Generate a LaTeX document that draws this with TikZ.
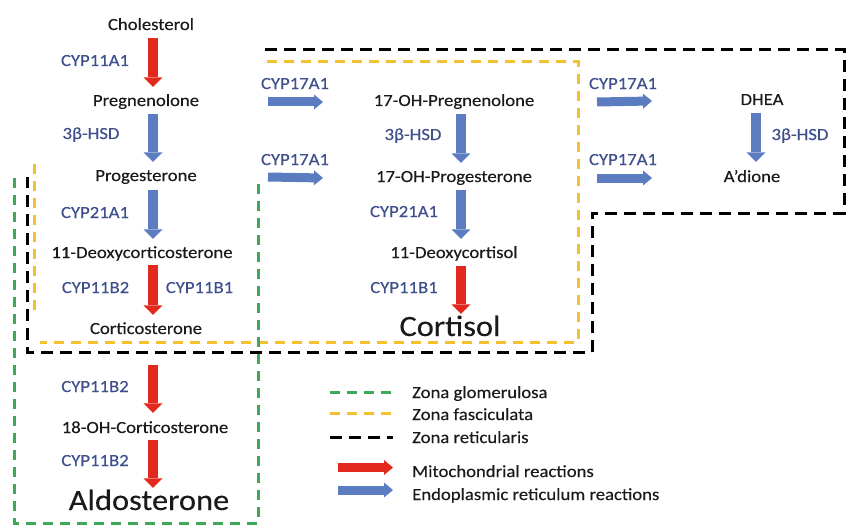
\documentclass[tikz,border=0pt]{standalone}
\usepackage{fontspec}
\setmainfont{Carlito}[FakeStretch=1.1,FakeBold=0.3]
\usetikzlibrary{arrows.meta}
\definecolor{enz}{HTML}{3E4F8C}
\definecolor{arrblue}{HTML}{5B7CC0}
\definecolor{arrred}{HTML}{E3291E}
\definecolor{zgreen}{HTML}{3DA85A}
\definecolor{zyellow}{HTML}{F2C12E}
\definecolor{txt}{HTML}{1A1A1A}
\begin{document}
\begin{tikzpicture}[x=1pt,y=-1pt,
  met/.style={font=\fontsize{17}{20}\selectfont, text=txt, anchor=base, inner sep=0pt, text height=12pt, text depth=4pt},
  big/.style={font=\fontsize{29.5}{34}\selectfont, text=txt, anchor=base, inner sep=0pt, text height=20pt, text depth=6pt},
  enzl/.style={font=\fontsize{17}{20}\selectfont, text=enz, anchor=base, inner sep=0pt},
  leg/.style={font=\fontsize{17}{20}\selectfont, text=txt, anchor=base west, inner sep=0pt},
  varr/.style={line width=9.5pt, -{Triangle[length=9.5pt,width=19pt,line width=0pt]}, shorten <=4pt, shorten >=7pt},
  redv/.style={varr, draw=arrred},
  bluev/.style={varr, draw=arrblue},
  harr/.style={line width=9pt, -{Triangle[length=9pt,width=15pt,line width=0pt]}},
  blueh/.style={harr, draw=arrblue},
  redh/.style={harr, draw=arrred},
  zglom/.style={draw=zgreen, line width=3pt, dash pattern=on 10pt off 7pt},
  zfasc/.style={draw=zyellow, line width=3pt, dash pattern=on 10pt off 7pt},
  zret/.style={draw=black, line width=3pt, dash pattern=on 12pt off 7pt}
]
\useasboundingbox (0,0) rectangle (847,527);

% zone outlines
\draw[zret] (265,50) -- (844,50) -- (844,213) -- (592,213) -- (592,352) -- (27,352) -- (27,177);
\draw[zfasc] (267,62) -- (578,62) -- (578,342) -- (40,342);
\draw[zfasc] (34,164) -- (34,316);
\draw[zglom] (14,178) -- (14,523) -- (258,523) -- (258,178);

% column coordinates
\coordinate (colA) at (153,0);
\coordinate (colB) at (461,0);
\coordinate (colC) at (756,0);
\coordinate (h1a) at (268,0);
\coordinate (h1b) at (323,0);
\coordinate (h2a) at (597,0);
\coordinate (h2b) at (652,0);

% metabolites
\node[met] (chol) at (151,30) {Cholesterol};
\node[met] (preg) at (146,106) {Pregnenolone};
\node[met] (prog) at (146,181) {Progesterone};
\node[met] (doc) at (142,258) {11-Deoxycorticosterone};
\node[met] (cort) at (146,334) {Corticosterone};
\node[met] (ohc) at (145,433) {18-OH-Corticosterone};
\node[big] (aldo) at (149,510) {Aldosterone};
\node[met] (ohpreg) at (454,106) {17-OH-Pregnenolone};
\node[met] (ohprog) at (454,182) {17-OH-Progesterone};
\node[met] (dcl) at (454,258) {11-Deoxycortisol};
\node[big] (cortisol) at (450,336) {Cortisol};
\node[met] (dhea) at (762,105) {DHEA};
\node[met] (adione) at (752,182) {A’dione};

% enzymes
\node[enzl] (e1) at (95,66) {CYP11A1};
\node[enzl] (e2) at (91,139) {3β-HSD};
\node[enzl] (e3) at (95,218) {CYP21A1};
\node[enzl] (e4) at (95.5,293) {CYP11B2};
\node[enzl] (e5) at (199.5,293) {CYP11B1};
\node[enzl] (e6) at (95,392) {CYP11B2};
\node[enzl] (e7) at (95,466) {CYP11B2};
\node[enzl] (e8) at (295,89) {CYP17A1};
\node[enzl] (e9) at (295,165) {CYP17A1};
\node[enzl] (e10) at (413,140) {3β-HSD};
\node[enzl] (e11) at (404,217) {CYP21A1};
\node[enzl] (e12) at (404,293) {CYP11B1};
\node[enzl] (e13) at (623,89) {CYP17A1};
\node[enzl] (e14) at (623,165) {CYP17A1};
\node[enzl] (e15) at (800,140) {3β-HSD};

% vertical reactions
\draw[redv] (chol.south -| colA) -- (preg.north -| colA);
\draw[bluev] (preg.south -| colA) -- (prog.north -| colA);
\draw[bluev, shorten <=5pt] (prog.south -| colA) -- (doc.north -| colA);
\draw[redv, shorten <=3pt] (doc.south -| colA) -- (cort.north -| colA);
\draw[redv, shorten <=27pt, shorten >=8pt] (cort.south -| colA) -- (ohc.north -| colA);
\draw[redv, shorten <=3pt, shorten >=2pt] (ohc.south -| colA) -- (aldo.north -| colA);
\draw[bluev] (ohpreg.south -| colB) -- (ohprog.north -| colB);
\draw[bluev] (ohprog.south -| colB) -- (dcl.north -| colB);
\draw[redv, shorten >=2pt] (dcl.south -| colB) -- (cortisol.north -| colB);
\draw[bluev, shorten >=8pt] (dhea.south -| colC) -- (adione.north -| colC);

% horizontal reactions
\draw[blueh] (preg -| h1a) -- (ohpreg -| h1b);
\draw[blueh] (prog -| h1a) -- (ohprog -| h1b);
\draw[blueh] (ohpreg -| h2a) -- (dhea -| h2b);
\draw[blueh] (ohprog -| h2a) -- (adione -| h2b);

% legend
\coordinate (lg1) at (330,392); \coordinate (lg2) at (393,392);
\coordinate (ly1) at (330,413); \coordinate (ly2) at (393,413);
\coordinate (lb1) at (330,437); \coordinate (lb2) at (393,437);
\coordinate (lr1) at (338,467.5); \coordinate (lr2) at (393,467.5);
\coordinate (lu1) at (338,490); \coordinate (lu2) at (393,490);
\draw[zglom] (lg1) -- (lg2);
\draw[zfasc] (ly1) -- (ly2);
\draw[zret] (lb1) -- (lb2);
\draw[redh] (lr1) -- (lr2);
\draw[blueh] (lu1) -- (lu2);
\node[leg] (t1) at (412,398) {Zona glomerulosa};
\node[leg] (t2) at (412,420) {Zona fasciculata};
\node[leg] (t3) at (412,443) {Zona reticularis};
\node[leg] (t4) at (412,477) {Mitochondrial reactions};
\node[leg] (t5) at (412,500) {Endoplasmic reticulum reactions};
\end{tikzpicture}
\end{document}
